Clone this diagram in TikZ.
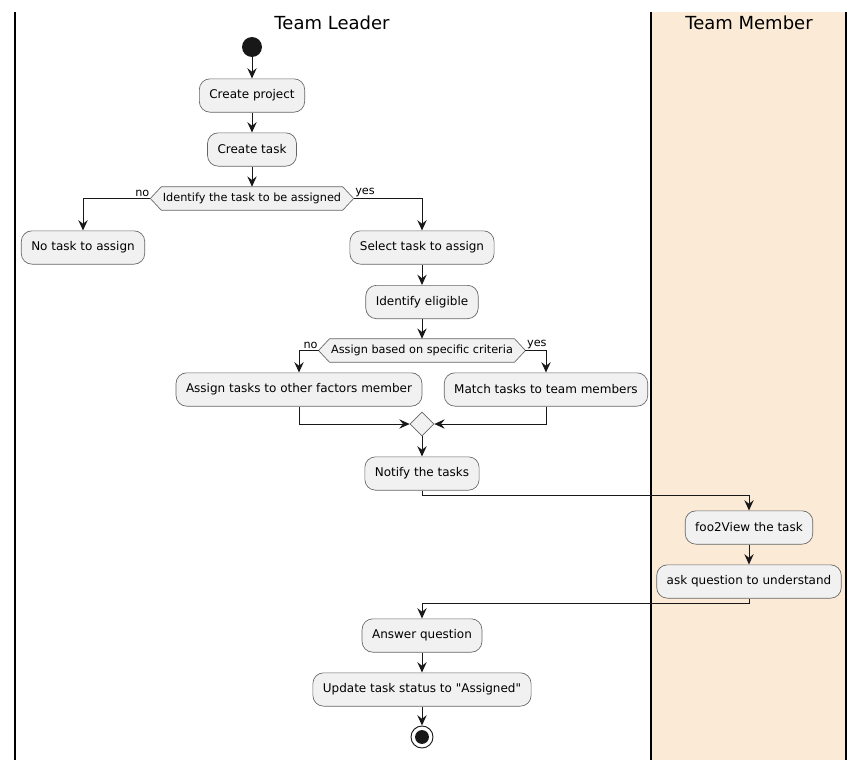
\documentclass[tikz,border=0pt]{standalone}
\usepackage{fontspec}
\setmainfont{DejaVu Sans}
\usetikzlibrary{arrows.meta,shapes.geometric,backgrounds}
\definecolor{boxfill}{HTML}{F1F1F1}
\definecolor{boxline}{HTML}{666666}
\definecolor{ink}{HTML}{181818}
\definecolor{lanefill}{HTML}{FAEAD6}
\tikzset{
  act/.style={draw=boxline, line width=0.5pt, fill=boxfill, rounded corners=8pt,
    inner xsep=7.5pt, inner ysep=0pt, minimum height=25pt, font=\fontsize{9pt}{11pt}\selectfont},
  hexbody/.style={inner xsep=1pt, inner ysep=0pt, minimum height=17.25pt, font=\fontsize{8.45pt}{10pt}\selectfont},
  hexline/.style={draw=boxline, line width=0.5pt, fill=boxfill},
  flow/.style={draw=ink, line width=0.65pt, -{Stealth[length=7.8pt,width=7pt,inset=2.8pt]}},
  lbl/.style={font=\fontsize{8.45pt}{10pt}\selectfont, inner sep=0pt},
  lanetitle/.style={font=\fontsize{13.5pt}{16pt}\selectfont, inner sep=0pt},
  laneline/.style={draw=black, line width=1.1pt},
}
\begin{document}
\begin{tikzpicture}[x=0.75pt, y=-0.75pt]
\useasboundingbox (0,0) rectangle (865,771);
% lane background
\fill[lanefill] (651,12) rectangle (846,760);
\draw[laneline] (15,12) -- (15,760);
\draw[laneline] (651,12) -- (651,760);
\draw[laneline] (846,12) -- (846,760);
\node[lanetitle] (tl) at (332,23) {Team Leader};
\node[lanetitle] (tm) at (749,23) {Team Member};

% nodes
\node[circle, fill=ink, minimum size=15pt, inner sep=0pt] (start) at (252,47) {};
\node[act] (cp) at (252,95.5) {Create project};
\node[act] (ct) at (252,149.5) {Create task};
\node[hexbody] (d1) at (252,198.5) {Identify the task to be assigned};
\node[act] (nota) at (83,247.5) {No task to assign};
\node[act] (sel) at (422,247.5) {Select task to assign};
\node[act] (elig) at (422,302) {Identify eligible};
\node[hexbody] (d2) at (422,350.5) {Assign based on specific criteria};
\node[act] (oth) at (299,389.5) {Assign tasks to other factors member};
\node[act] (mat) at (546,389.5) {Match tasks to team members};
\node[diamond, draw=boxline, line width=0.5pt, fill=boxfill, minimum width=18pt, minimum height=18pt, inner sep=0pt] (mg) at (422,424) {};
\node[act] (nt) at (422,473.5) {Notify the tasks};
\node[act] (fv) at (749,527.5) {foo2View the task};
\node[act] (ask) at (749,581.5) {ask question to understand};
\node[act] (ans) at (422,635.5) {Answer question};
\node[act] (upd) at (422,689.5) {Update task status to \textquotedbl Assigned\textquotedbl};
\node[circle, draw=ink, line width=0.7pt, fill=white, minimum size=16.5pt, inner sep=0pt,
  path picture={\fill[ink] (path picture bounding box.center) circle (5.2pt);}] (stop) at (422,737) {};

% hexagons
\begin{scope}[on background layer]
\draw[hexline] (d1.north west) -- (d1.north east) -- ([xshift=8.25pt]d1.east) -- (d1.south east) -- (d1.south west) -- ([xshift=-8.25pt]d1.west) -- cycle;
\draw[hexline] (d2.north west) -- (d2.north east) -- ([xshift=8.25pt]d2.east) -- (d2.south east) -- (d2.south west) -- ([xshift=-8.25pt]d2.west) -- cycle;
\end{scope}
\coordinate (d1w) at ([xshift=-8.25pt]d1.west);
\coordinate (d1e) at ([xshift=8.25pt]d1.east);
\coordinate (d2w) at ([xshift=-8.25pt]d2.west);
\coordinate (d2e) at ([xshift=8.25pt]d2.east);

% labels
\node[lbl, anchor=south east] (no1) at ([xshift=-0.5pt,yshift=1pt]d1w) {no};
\node[lbl, anchor=south west] (yes1) at ([xshift=1pt,yshift=1pt]d1e) {yes};
\node[lbl, anchor=south east] (no2) at ([xshift=-0.5pt,yshift=1pt]d2w) {no};
\node[lbl, anchor=south west] (yes2) at ([xshift=1pt,yshift=1pt]d2e) {yes};

% connectors
\draw[flow] (start) -- (cp);
\draw[flow] (cp) -- (ct);
\draw[flow] (ct) -- (d1);
\draw[flow] (d1w) -| (nota.north);
\draw[flow] (d1e) -| (sel.north);
\draw[flow] (sel) -- (elig);
\draw[flow] (elig) -- (d2);
\draw[flow] (d2w) -| (oth.north);
\draw[flow] (d2e) -| (mat.north);
\draw[flow] (oth.south) |- (mg.west);
\draw[flow] (mat.south) |- (mg.east);
\draw[flow] (mg) -- (nt);
\draw[flow] (nt.south) -- ++(0,5) -| (fv.north);
\draw[flow] (fv) -- (ask);
\draw[flow] (ask.south) -- ++(0,5) -| (ans.north);
\draw[flow] (ans) -- (upd);
\draw[flow] (upd) -- (stop);
\end{tikzpicture}
\end{document}
